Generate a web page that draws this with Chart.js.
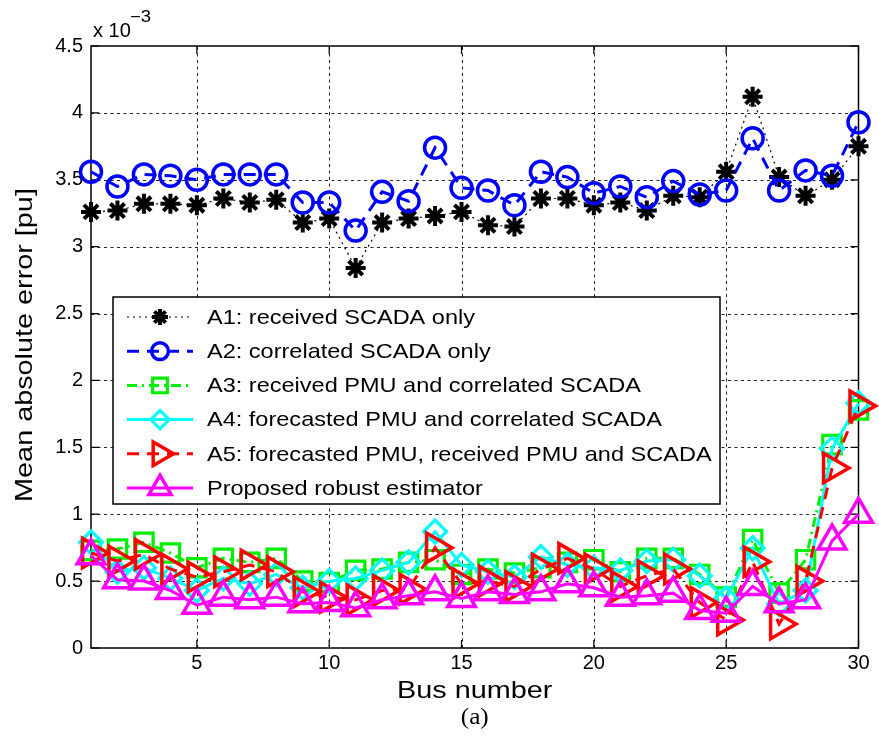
<!DOCTYPE html>
<html>
<head>
<meta charset="utf-8">
<script src="https://cdn.jsdelivr.net/npm/chart.js@4.4.1/dist/chart.umd.min.js"></script>
<style>
  html, body { margin: 0; padding: 0; background: #fff; }
  canvas { display: block; }
</style>
</head>
<body>
<canvas id="c" width="879" height="752"></canvas>
<script>
// Mean absolute error per bus, values in units of 1e-3 pu
const buses = [1,2,3,4,5,6,7,8,9,10,11,12,13,14,15,16,17,18,19,20,21,22,23,24,25,26,27,28,29,30];
const xTicks = [5, 10, 15, 20, 25, 30];
const yTicks = [0, 0.5, 1, 1.5, 2, 2.5, 3, 3.5, 4, 4.5];

const a1ReceivedScada = [3.26,3.27,3.32,3.32,3.31,3.36,3.33,3.35,3.18,3.21,2.84,3.18,3.21,3.23,3.26,3.16,3.15,3.36,3.36,3.31,3.33,3.27,3.38,3.37,3.56,4.12,3.52,3.38,3.50,3.75];
const a2CorrelatedScada = [3.56,3.45,3.54,3.53,3.50,3.54,3.54,3.54,3.33,3.33,3.12,3.41,3.34,3.74,3.44,3.42,3.31,3.56,3.52,3.40,3.45,3.37,3.49,3.39,3.42,3.81,3.42,3.57,3.53,3.93];
const a3ReceivedPmu = [0.73,0.74,0.79,0.71,0.60,0.67,0.64,0.67,0.50,0.49,0.58,0.59,0.64,0.66,0.55,0.59,0.56,0.60,0.64,0.66,0.57,0.67,0.67,0.55,0.38,0.81,0.41,0.66,1.52,1.78];
const a4ForecastedPmu = [0.79,0.57,0.60,0.52,0.43,0.52,0.48,0.55,0.45,0.50,0.52,0.58,0.64,0.87,0.62,0.57,0.53,0.68,0.62,0.60,0.58,0.65,0.66,0.54,0.37,0.745,0.33,0.43,1.49,1.83];
const a5ForecastedReceived = [0.71,0.65,0.70,0.59,0.53,0.57,0.62,0.57,0.42,0.38,0.36,0.43,0.44,0.75,0.48,0.50,0.46,0.59,0.67,0.59,0.46,0.54,0.59,0.34,0.21,0.645,0.18,0.50,1.345,1.81];
const robustEstimator = [0.69,0.51,0.50,0.43,0.32,0.38,0.36,0.38,0.33,0.34,0.30,0.36,0.39,0.42,0.37,0.42,0.40,0.42,0.48,0.45,0.38,0.39,0.41,0.28,0.26,0.46,0.33,0.36,0.80,1.00];

const seriesLabels = [
  'A1: received SCADA only',
  'A2: correlated SCADA only',
  'A3: received PMU and correlated SCADA',
  'A4: forecasted PMU and correlated SCADA',
  'A5: forecasted PMU, received PMU and SCADA',
  'Proposed robust estimator'
];

const SANS = '"Liberation Sans", Arial, Helvetica, sans-serif';

function pts(values) {
  return buses.map((b, i) => ({ x: b, y: values[i] }));
}

function series(label, values, style, order) {
  return Object.assign({
    label: label,
    data: pts(values),
    showLine: true,
    fill: false,
    tension: 0,
    clip: false,
    pointBackgroundColor: 'rgba(0,0,0,0)',
    order: order
  }, style);
}

const datasets = [
  series(seriesLabels[0], a1ReceivedScada, {
    borderColor: '#000', borderWidth: 1.2, borderDash: [2, 4],
    pointStyle: 'star', pointRadius: 10, pointBorderColor: '#000', pointBorderWidth: 4
  }, 6),
  series(seriesLabels[1], a2CorrelatedScada, {
    borderColor: '#0000ff', borderWidth: 3, borderDash: [12, 8],
    pointStyle: 'circle', pointRadius: 10.5, pointBorderColor: '#0000ff', pointBorderWidth: 3.5
  }, 5),
  series(seriesLabels[2], a3ReceivedPmu, {
    borderColor: '#00ee00', borderWidth: 3, borderDash: [10, 5, 2, 5],
    pointStyle: 'rect', pointRadius: 13, pointBorderColor: '#00ee00', pointBorderWidth: 3.2
  }, 4),
  series(seriesLabels[3], a4ForecastedPmu, {
    borderColor: '#00ffff', borderWidth: 3,
    pointStyle: 'rectRot', pointRadius: 11.5, pointBorderColor: '#00ffff', pointBorderWidth: 3.2
  }, 3),
  series(seriesLabels[4], a5ForecastedReceived, {
    borderColor: '#ff0000', borderWidth: 3, borderDash: [12, 8],
    pointStyle: 'triangle', pointRotation: 90, pointRadius: 17, pointBorderColor: '#ff0000', pointBorderWidth: 3.5
  }, 2),
  series(seriesLabels[5], robustEstimator, {
    borderColor: '#ff00ff', borderWidth: 3,
    pointStyle: 'triangle', pointRadius: 16, pointBorderColor: '#ff00ff', pointBorderWidth: 3.5
  }, 1)
];

// draws text widened along its own direction
function wideText(ctx, text, x, y, font, sx, align, rotation) {
  ctx.save();
  ctx.translate(x, y);
  if (rotation) ctx.rotate(rotation);
  ctx.scale(sx, 1);
  ctx.font = font;
  ctx.textAlign = align || 'center';
  ctx.textBaseline = 'middle';
  ctx.fillStyle = '#000';
  ctx.fillText(text, 0, 0);
  ctx.restore();
}

// dotted grid, axes box and inward tick marks
const framePlugin = {
  id: 'frame',
  beforeDatasetsDraw(chart) {
    const { ctx, chartArea: a, scales } = chart;
    ctx.save();
    ctx.strokeStyle = '#222';
    ctx.lineWidth = 1;
    ctx.setLineDash([3, 3.5]);
    ctx.beginPath();
    yTicks.forEach(v => {
      const py = Math.round(scales.y.getPixelForValue(v)) + 0.5;
      if (py <= a.top + 1 || py >= a.bottom - 1) return;
      ctx.moveTo(a.left, py); ctx.lineTo(a.right, py);
    });
    xTicks.forEach(v => {
      const px = Math.round(scales.x.getPixelForValue(v)) + 0.5;
      if (px <= a.left + 1 || px >= a.right - 1) return;
      ctx.moveTo(px, a.bottom); ctx.lineTo(px, a.top);
    });
    ctx.stroke();

    ctx.setLineDash([]);
    ctx.strokeStyle = '#000';
    ctx.lineWidth = 1.5;
    ctx.strokeRect(a.left, a.top, a.right - a.left, a.bottom - a.top);
    ctx.lineWidth = 1.2;
    ctx.beginPath();
    yTicks.forEach(v => {
      const py = scales.y.getPixelForValue(v);
      ctx.moveTo(a.left, py); ctx.lineTo(a.left + 8, py);
      ctx.moveTo(a.right, py); ctx.lineTo(a.right - 8, py);
    });
    xTicks.forEach(v => {
      const px = scales.x.getPixelForValue(v);
      ctx.moveTo(px, a.bottom); ctx.lineTo(px, a.bottom - 8);
      ctx.moveTo(px, a.top); ctx.lineTo(px, a.top + 8);
    });
    ctx.stroke();
    ctx.restore();
  }
};

// legend box inside the plot and the surrounding texts
const annotatePlugin = {
  id: 'annotate',
  afterDatasetsDraw(chart) {
    const { ctx, chartArea: a } = chart;
    const box = { x: 113, y: 297, w: 607, h: 207 };
    ctx.save();
    ctx.fillStyle = '#fff';
    ctx.fillRect(box.x, box.y, box.w, box.h);
    ctx.strokeStyle = '#000';
    ctx.lineWidth = 1.5;
    ctx.setLineDash([]);
    ctx.strokeRect(box.x, box.y, box.w, box.h);

    datasets.forEach((ds, i) => {
      const ry = box.y + 20 + i * 34.2;
      ctx.save();
      ctx.strokeStyle = ds.borderColor;
      ctx.lineWidth = ds.borderWidth;
      ctx.setLineDash(ds.borderDash || []);
      ctx.beginPath();
      ctx.moveTo(127, ry);
      ctx.lineTo(193, ry);
      ctx.stroke();
      ctx.setLineDash([]);
      ctx.strokeStyle = ds.pointBorderColor;
      ctx.fillStyle = 'rgba(0,0,0,0)';
      ctx.lineWidth = ds.pointBorderWidth;
      Chart.helpers.drawPoint(ctx, {
        pointStyle: ds.pointStyle,
        radius: ds.pointRadius * 0.8,
        rotation: ds.pointRotation || 0,
        borderWidth: ds.pointBorderWidth
      }, 160, ry);
      ctx.restore();
      wideText(ctx, ds.label, 207, ry + 1, '21px ' + SANS, 1.12, 'left');
    });

    // axis titles and multiplier
    wideText(ctx, 'Bus number', (a.left + a.right) / 2, 691, '24px ' + SANS, 1.2, 'center');
    wideText(ctx, 'Mean absolute error [pu]', 25, 345, '24px ' + SANS, 1.2, 'center', -Math.PI / 2);
    wideText(ctx, '(a)', (a.left + a.right) / 2, 718, '24px "Liberation Serif", "Times New Roman", serif', 1.05, 'center');
    wideText(ctx, 'x 10', 93, 31, '20px ' + SANS, 1.0, 'left');
    wideText(ctx, '\u22123', 130, 18, '16px ' + SANS, 1.15, 'left');
    ctx.restore();
  }
};

new Chart(document.getElementById('c'), {
  type: 'scatter',
  data: { datasets: datasets },
  plugins: [framePlugin, annotatePlugin],
  options: {
    responsive: false,
    animation: false,
    devicePixelRatio: 1,
    layout: { padding: { top: 46, right: 12, left: 0, bottom: 0 } },
    plugins: { legend: { display: false }, tooltip: { enabled: false } },
    scales: {
      x: {
        type: 'linear', min: 1, max: 30,
        afterBuildTicks: s => { s.ticks = xTicks.map(v => ({ value: v })); },
        afterFit: s => { s.height = 104; },
        grid: { display: false, drawTicks: false },
        border: { display: false },
        ticks: { color: '#000', font: { family: SANS, size: 20 }, padding: 3, maxRotation: 0, autoSkip: false, callback: v => String(v) }
      },
      y: {
        type: 'linear', min: 0, max: 4.5,
        afterBuildTicks: s => { s.ticks = yTicks.map(v => ({ value: v })); },
        afterFit: s => { s.width = 91; },
        grid: { display: false, drawTicks: false },
        border: { display: false },
        ticks: { color: '#000', font: { family: SANS, size: 20 }, padding: 8, autoSkip: false, callback: v => String(v) }
      }
    }
  }
});
</script>
</body>
</html>
